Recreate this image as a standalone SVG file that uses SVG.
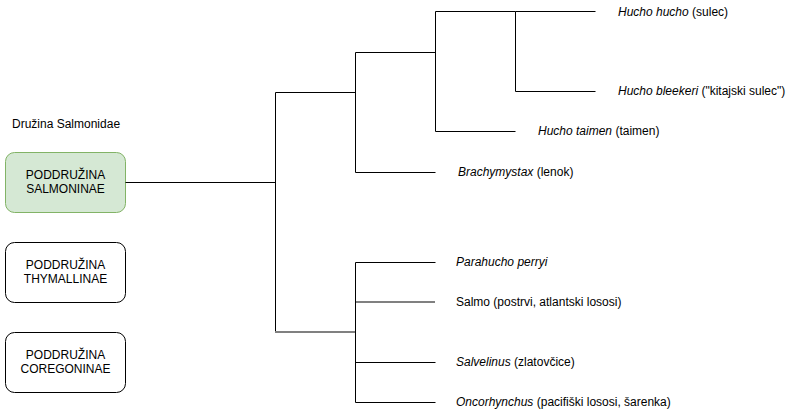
<svg xmlns="http://www.w3.org/2000/svg" width="806" height="414" viewBox="0 0 806 414">
<style>
text{font-family:"Liberation Sans",Arial,sans-serif;font-size:12px;fill:#000}
.box{fill:#fff;stroke:#000;stroke-width:1}
.green{fill:#d5e8d4;stroke:#82b366}
.c{text-anchor:middle}
.e path{fill:none;stroke:#000;stroke-width:1}
.e path.g{stroke:#808080;stroke-width:2}
.i{font-style:italic}
</style>
<rect width="806" height="414" fill="#fff"/>
<text x="12" y="128">Družina Salmonidae</text>
<g id="salmoninae">
<rect class="box green" x="5.5" y="152.5" width="120" height="60" rx="9"/>
<text class="c" x="65.5" y="179">PODDRUŽINA</text>
<text class="c" x="65.5" y="193">SALMONINAE</text>
</g>
<g id="thymallinae">
<rect class="box" x="5.5" y="242.5" width="120" height="60" rx="9"/>
<text class="c" x="65.5" y="269">PODDRUŽINA</text>
<text class="c" x="65.5" y="283">THYMALLINAE</text>
</g>
<g id="coregoninae">
<rect class="box" x="5.5" y="332.5" width="120" height="60" rx="9"/>
<text class="c" x="65.5" y="359">PODDRUŽINA</text>
<text class="c" x="65.5" y="373">COREGONINAE</text>
</g>
<g id="edges" class="e">
<path d="M125.5 182.5H275.5"/>
<path d="M275.5 92.5V332.5"/>
<path d="M275.5 92.5H355.5"/>
<path d="M355.5 52.5V172.5H435.5"/>
<path d="M355.5 52.5H435.5"/>
<path d="M435.5 11.5V131.5H515.5"/>
<path d="M435.5 11.5H515.5V91.5H595.5"/>
<path d="M515.5 11.5H595.5"/>
<path d="M355.5 262.5V402.5"/>
<path d="M355.5 262.5H435.5"/>
<path d="M355.5 362.5H435.5"/>
<path d="M355.5 402.5H435.5"/>
<path class="g" d="M275 332H355"/>
<path class="g" d="M356 302H435"/>
</g>
<g id="leaves">
<text x="618" y="16"><tspan class="i">Hucho hucho</tspan> (sulec)</text>
<text x="618" y="95"><tspan class="i">Hucho bleekeri</tspan> ("kitajski sulec")</text>
<text x="538" y="135"><tspan class="i">Hucho taimen</tspan> (taimen)</text>
<text x="458" y="176"><tspan class="i">Brachymystax</tspan> (lenok)</text>
<text x="456" y="266" class="i">Parahucho perryi</text>
<text x="456" y="306">Salmo (postrvi, atlantski lososi)</text>
<text x="456" y="366"><tspan class="i">Salvelinus</tspan> (zlatovčice)</text>
<text x="456" y="406"><tspan class="i">Oncorhynchus</tspan> (pacifiški lososi, šarenka)</text>
</g>
</svg>
